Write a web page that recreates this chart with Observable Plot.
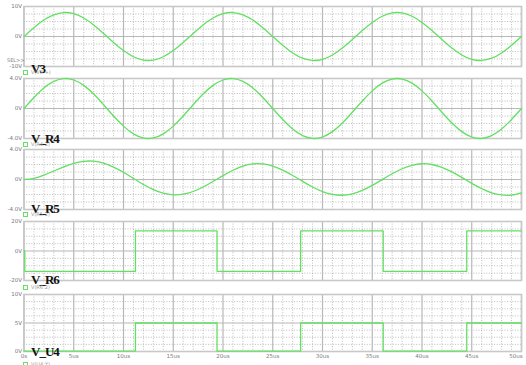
<!DOCTYPE html>
<html><head><meta charset="utf-8">
<script src="https://cdn.jsdelivr.net/npm/d3@7"></script>
<script src="https://cdn.jsdelivr.net/npm/@observablehq/plot@0.6"></script>
<style>
body{margin:0;background:#fff;}
#c{position:relative;width:526px;height:365px;overflow:hidden;font-family:"DejaVu Sans",sans-serif;background:#fff;}
#c svg{position:absolute;left:0;}
.lab{position:absolute;font-family:"Liberation Serif",serif;font-weight:bold;font-size:13px;letter-spacing:-1px;color:#111;line-height:1;white-space:nowrap;}
.leg{position:absolute;font-size:5px;color:#999;line-height:1;white-space:nowrap;}
.leg i{display:inline-block;width:3px;height:3px;border:1px solid #66e066;margin-right:3px;vertical-align:middle;}
.sel{position:absolute;font-size:5px;color:#888;line-height:1;}
</style></head><body><div id="c"></div>
<script>
// time axis, microseconds
const timeUs = [0,1,2,3,4,5,6,7,8,9,10,11,12,13,14,15,16,17,18,19,20,21,22,23,24,25,26,27,28,29,30,31,32,33,34,35,36,37,38,39,40,41,42,43,44,45,46,47,48,49,50];
// V3 (V)
const v3 = [0,2.94,5.48,7.24,7.98,7.61,6.17,3.86,1.0,-1.99,-4.7,-6.75,-7.86,-7.86,-6.75,-4.7,-1.99,1.0,3.86,6.17,7.61,7.98,7.24,5.48,2.94,0,-2.94,-5.48,-7.24,-7.98,-7.61,-6.17,-3.86,-1.0,1.99,4.7,6.75,7.86,7.86,6.75,4.7,1.99,-1.0,-3.86,-6.17,-7.61,-7.98,-7.24,-5.48,-2.94,0];
// V_R4 (V)
const vR4 = [0,1.47,2.74,3.62,3.99,3.80,3.08,1.93,0.50,-1.00,-2.35,-3.38,-3.93,-3.93,-3.38,-2.35,-1.00,0.50,1.93,3.08,3.80,3.99,3.62,2.74,1.47,0,-1.47,-2.74,-3.62,-3.99,-3.80,-3.08,-1.93,-0.50,1.00,2.35,3.38,3.93,3.93,3.38,2.35,1.00,-0.50,-1.93,-3.08,-3.80,-3.99,-3.62,-2.74,-1.47,0];
// V_R5 (V)
const vR5 = [0,0.16,0.58,1.13,1.69,2.16,2.43,2.44,2.18,1.66,0.96,0.15,-0.66,-1.34,-1.83,-2.04,-1.96,-1.60,-1.00,-0.26,0.52,1.23,1.78,2.07,2.07,1.79,1.25,0.54,-0.25,-1.00,-1.61,-1.99,-2.10,-1.91,-1.45,-0.79,-0.01,0.76,1.43,1.89,2.10,2.00,1.63,1.02,0.28,-0.51,-1.22,-1.77,-2.06,-2.07,-1.78];
// V_R6 square wave (step-after)
const r6Times = [0,0.08,11.2,19.4,27.8,36.1,44.5,50];
const r6Values = [0,-13.8,13.6,-13.8,13.6,-13.8,13.6,13.6];
// V_U4 logic output (step-after)
const u4Times = [0,11.2,19.4,27.8,36.1,44.5,50];
const u4Values = [0.05,5,0.05,5,0.05,5,5];

const titles = ["V3","V_R4","V_R5","V_R6","V_U4"];
const legendNames = ["V(V3:+)","V(R4:2)","V(R5:2)","V(R6:2)","V(U4:Y)"];
const yTicks = [[-10,0,10],[-4,0,4],[-4,0,4],[-20,0,20],[0,5,10]];
const yTickLabels = [["-10V","0V","10V"],["-4.0V","0V","4.0V"],["-4.0V","0V","4.0V"],["-20V","0V","20V"],["0V","5V","10V"]];
const xTicks = [0,5,10,15,20,25,30,35,40,45,50];
const xTickLabels = ["0s","5us","10us","15us","20us","25us","30us","35us","40us","45us","50us"];

const layout = [
  {top:6,bottom:66,labTop:64,legY:72},
  {top:78,bottom:138,labTop:134,legY:144},
  {top:149,bottom:209,labTop:204,legY:214},
  {top:221,bottom:280,labTop:275,legY:287},
  {top:294,bottom:351,labTop:347,legY:364}
];
const seriesList = [
  {x:timeUs,y:v3,curve:"natural"},
  {x:timeUs,y:vR4,curve:"natural"},
  {x:timeUs,y:vR5,curve:"natural"},
  {x:r6Times,y:r6Values,curve:"step-after"},
  {x:u4Times,y:u4Values,curve:"step-after"}
];

const green = "#62e062";
const minorX = d3.range(0,51).filter(t => t % 5 !== 0);
const c = document.getElementById("c");
const fmtX = d => xTickLabels[xTicks.indexOf(d)];

titles.forEach((title, k) => {
  const L = layout[k];
  const isLast = k === titles.length - 1;
  const mt = 6, mb = isLast ? 14 : 6;
  const ticks = yTicks[k];
  const lo = ticks[0], mid = ticks[1], hi = ticks[2];
  const q = (hi - mid) / 4;
  const minorY = [1,2,3].flatMap(j => [mid - j*q, mid + j*q]);
  const labMap = new Map(ticks.map((t,i) => [t, yTickLabels[k][i]]));
  const s = seriesList[k];
  const data = s.x.map((t,i) => ({t, v: s.y[i]}));
  const marks = [
    Plot.ruleX(minorX, {stroke:"#a0a0a0", strokeWidth:0.7, strokeDasharray:"1,1.6"}),
    Plot.ruleY(minorY, {stroke:"#a0a0a0", strokeWidth:0.7, strokeDasharray:"1,1.6"}),
    Plot.ruleX(xTicks, {stroke:"#b8b8b8", strokeWidth:1.2}),
    Plot.ruleY([mid], {stroke:"#b8b8b8", strokeWidth:1.2}),
    Plot.frame({stroke:"#c8c8c8", strokeWidth:1.6}),
    Plot.axisY(ticks, {label:null, tickSize:0, tickPadding:2, fontSize:5.5, fill:"#7a7a7a", tickFormat: d => labMap.get(d)}),
    Plot.line(data, {x:"t", y:"v", curve:s.curve, stroke:green, strokeWidth:1.3})
  ];
  if (isLast) {
    marks.push(Plot.axisX(xTicks.slice(0, -1), {label:null, tickSize:0, tickPadding:3, fontSize:5.5, fill:"#7a7a7a", tickFormat: fmtX}));
    marks.push(Plot.axisX(xTicks.slice(-1), {label:null, tickSize:0, tickPadding:3, fontSize:5.5, fill:"#7a7a7a", textAnchor:"end", dx:1, tickFormat: fmtX}));
  }
  const svg = Plot.plot({
    width:526, height: L.bottom - L.top + mt + mb,
    marginLeft:23.5, marginRight:5, marginTop:mt, marginBottom:mb,
    x:{domain:[0,50], axis:null},
    y:{domain:[lo,hi], axis:null},
    style:{fontFamily:"DejaVu Sans, sans-serif", background:"transparent", overflow:"visible"},
    marks
  });
  svg.style.top = (L.top - mt) + "px";
  c.appendChild(svg);

  const lab = document.createElement("div");
  lab.className = "lab";
  lab.textContent = title;
  lab.style.left = "31px";
  lab.style.top = (L.labTop - 2.5) + "px";
  c.appendChild(lab);

  const leg = document.createElement("div");
  leg.className = "leg";
  leg.innerHTML = "<i></i>";
  leg.appendChild(document.createTextNode(legendNames[k]));
  leg.style.left = "23px";
  leg.style.top = (L.legY - 2.5) + "px";
  c.appendChild(leg);
});

const sel = document.createElement("div");
sel.className = "sel";
sel.textContent = "SEL>>";
sel.style.left = "7px";
sel.style.top = "58px";
c.appendChild(sel);
</script>
</body></html>
